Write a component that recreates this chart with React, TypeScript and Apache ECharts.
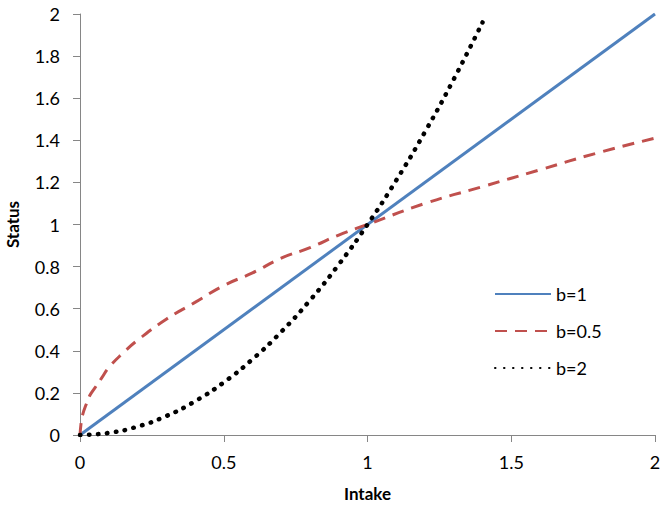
import React, { useEffect, useRef } from "react";
import * as echarts from "echarts";

const linearX = [0, 2];
const linearY = [0, 2];

const sqrtX = [0, 0.005, 0.01, 0.02, 0.035, 0.05, 0.075, 0.1, 0.15, 0.2, 0.3, 0.4, 0.5, 0.6, 0.7, 0.8, 0.9, 1.0, 1.2, 1.4, 1.6, 1.8, 2.0];
const sqrtY = [0, 0.07, 0.1, 0.14, 0.19, 0.22, 0.27, 0.32, 0.39, 0.45, 0.55, 0.63, 0.71, 0.77, 0.84, 0.89, 0.95, 1.0, 1.1, 1.18, 1.26, 1.34, 1.41];

const sqX = [0, 0.1, 0.2, 0.3, 0.4, 0.5, 0.6, 0.7, 0.8, 0.9, 1.0, 1.1, 1.2, 1.3, 1.4];
const sqY = [0, 0.01, 0.04, 0.09, 0.16, 0.25, 0.36, 0.49, 0.64, 0.81, 1.0, 1.21, 1.44, 1.69, 1.96];

const seriesNames = ["b=1", "b=0.5", "b=2"];
const xTicks = { min: 0, max: 2, interval: 0.5 };
const yTicks = { min: 0, max: 2, interval: 0.2 };

const zip = (xs: number[], ys: number[]) => xs.map((x, i) => [x, ys[i]]);

const FONT = "Lato, 'Open Sans', sans-serif";

export default function App() {
  const ref = useRef<HTMLDivElement>(null);
  useEffect(() => {
    if (!ref.current) return;
    const chart = echarts.init(ref.current, null, { renderer: "svg" });
    const axisCommon = {
      axisLine: { show: true, lineStyle: { color: "#868686", width: 1 } },
      axisTick: { show: true, inside: false, length: 7, lineStyle: { color: "#868686" } },
      splitLine: { show: false },
      nameLocation: "middle" as const,
      nameTextStyle: { fontFamily: FONT, fontSize: 17, fontWeight: "bold" as const, color: "#000" },
    };
    chart.setOption({
      animation: false,
      backgroundColor: "#fff",
      grid: { left: 80, right: 11, top: 14, bottom: 74, containLabel: false, outerBoundsMode: "none" },
      xAxis: {
        type: "value",
        ...xTicks,
        ...axisCommon,
        name: "Intake",
        nameGap: 50,
        axisLabel: { fontFamily: FONT, fontSize: 18, color: "#000", margin: 18, formatter: (v: number) => String(v) },
      },
      yAxis: {
        type: "value",
        ...yTicks,
        ...axisCommon,
        name: "Status",
        nameGap: 59,
        axisLabel: { fontFamily: FONT, fontSize: 18, color: "#000", margin: 20, formatter: (v: number) => String(Math.round(v * 10) / 10) },
      },
      legend: {
        orient: "vertical",
        left: 489,
        top: 280,
        itemWidth: 56,
        itemHeight: 20,
        itemGap: 19,
        textStyle: { fontFamily: FONT, fontSize: 18, color: "#000" },
        itemStyle: { opacity: 0 },
        data: seriesNames,
      },
      series: [
        {
          name: seriesNames[0],
          type: "line",
          data: zip(linearX, linearY),
          showSymbol: false,
          symbol: "none",
          lineStyle: { color: "#4F81BD", width: 3 },
          itemStyle: { color: "#4F81BD" },
        },
        {
          name: seriesNames[1],
          type: "line",
          data: zip(sqrtX, sqrtY),
          smooth: true,
          showSymbol: false,
          symbol: "none",
          lineStyle: { color: "#C0504D", width: 3, type: [12, 8] },
          itemStyle: { color: "#C0504D" },
        },
        {
          name: seriesNames[2],
          type: "line",
          data: zip(sqX, sqY),
          smooth: true,
          showSymbol: false,
          symbol: "none",
          lineStyle: { color: "#000", width: 4.5, type: [0.5, 8.5], cap: "round" },
          itemStyle: { color: "#000" },
        },
      ],
    });
    return () => chart.dispose();
  }, []);
  return <div ref={ref} style={{ width: 666, height: 509, position: "absolute", left: 0, top: 0 }} />;
}
